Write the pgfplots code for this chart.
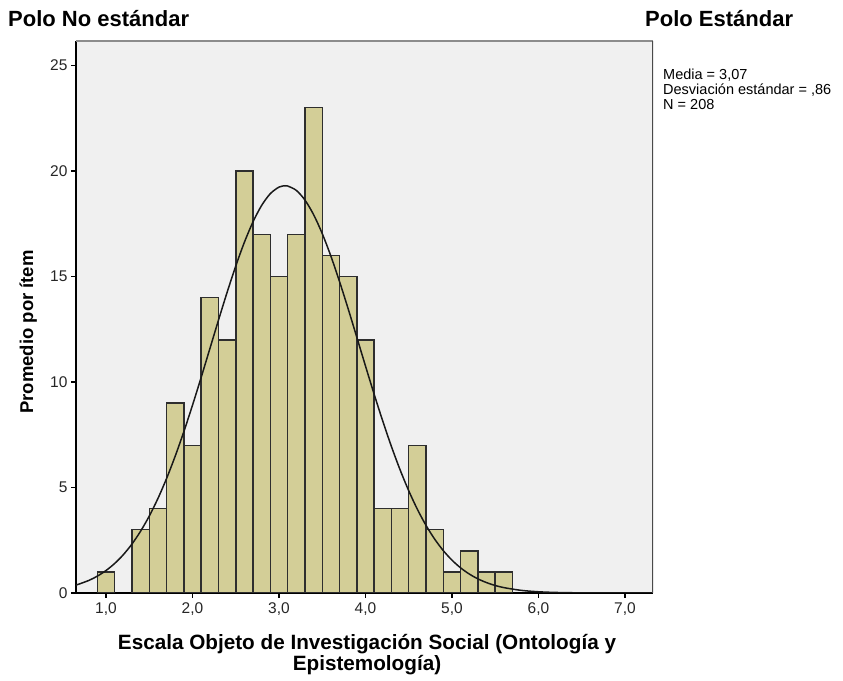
\documentclass[border=0pt]{standalone}
\usepackage{fontspec}
\setmainfont{Liberation Sans}
\usepackage{pgfplots}
\pgfplotsset{compat=1.18}
\definecolor{barFill}{HTML}{D3CE97}
\definecolor{barEdge}{HTML}{2E2E2E}
\definecolor{plotBg}{HTML}{F0F0F0}
\definecolor{frameTop}{HTML}{8C8C8C}
\definecolor{frameRight}{HTML}{4A4A4A}
\newcommand{\fsz}[1]{\fontsize{#1bp}{#1bp}\selectfont}

\begin{document}
\begin{tikzpicture}
\path[use as bounding box] (0,0) rectangle (843bp,681bp);
\begin{axis}[
  at={(76bp,88bp)}, anchor=south west,
  scale only axis, width=577bp, height=552bp,
  xmin=0.653, xmax=7.324, ymin=0, ymax=26.16,
  axis background/.style={fill=plotBg},
  axis x line*=bottom, axis y line*=left,
  axis line style={black, line width=1.2bp, -},
  xtick={1,2,3,4,5,6,7},
  xticklabels={{1,0},{2,0},{3,0},{4,0},{5,0},{6,0},{7,0}},
  ytick={0,5,10,15,20,25},
  tick align=outside, major tick length=5bp,
  tick style={black, line width=1.2bp},
  ticklabel style={font=\fsz{15.5}, text=black!85},
  xticklabel style={yshift=-1bp},
  /pgf/number format/assume math mode=true,
]
  % histogram, bins of width 0.2
  \addplot[ybar, bar width=0.2, fill=barFill, draw=barEdge, line width=1.5bp]
    coordinates {(1.0,1) (1.4,3) (1.6,4) (1.8,9) (2.0,7) (2.2,14) (2.4,12)
      (2.6,20) (2.8,17) (3.0,15) (3.2,17) (3.4,23) (3.6,16) (3.8,15)
      (4.0,12) (4.2,4) (4.4,4) (4.6,7) (4.8,3) (5.0,1) (5.2,2) (5.4,1)
      (5.6,1)};
  % normal curve (mean 3.07, sd .86, N 208)
  \addplot[black!90, line width=1.5bp, smooth, no markers]
    coordinates {(0.65,0.368) (0.8,0.593) (0.9,0.800) (1.0,1.065)
      (1.1,1.400) (1.2,1.814) (1.3,2.321) (1.4,2.930) (1.5,3.646)
      (1.6,4.478) (1.7,5.426) (1.8,6.487) (1.9,7.650) (2.0,8.901)
      (2.1,10.217) (2.2,11.570) (2.3,12.927) (2.4,14.248) (2.5,15.494)
      (2.6,16.623) (2.7,17.594) (2.8,18.372) (2.9,18.927) (3.0,19.236)
      (3.07,19.300) (3.1,19.288) (3.2,19.081) (3.3,18.622) (3.4,17.930)
      (3.5,17.032) (3.6,15.962) (3.7,14.758) (3.8,13.462) (3.9,12.114)
      (4.0,10.755) (4.1,9.421) (4.2,8.141) (4.3,6.940) (4.4,5.837)
      (4.5,4.844) (4.6,3.965) (4.7,3.202) (4.8,2.552) (4.9,2.006)
      (5.0,1.556) (5.1,1.190) (5.2,0.899) (5.3,0.669) (5.4,0.492)
      (5.5,0.356) (5.6,0.255) (5.8,0.125) (6.0,0.058) (6.2,0.026)
      (6.5,0.007) (7.0,0.001) (7.32,0.000)};
  \draw[frameTop, line width=1.5bp] (rel axis cs:0,1) -- (rel axis cs:1,1);
  \draw[frameRight, line width=1.2bp] (rel axis cs:1,1) -- (rel axis cs:1,0);
\end{axis}
% titles at the two poles
\node[anchor=base west, inner sep=0pt, font=\fsz{22}\bfseries] at (8bp,654bp) {Polo No estándar};
\node[anchor=base west, inner sep=0pt, font=\fsz{22}\bfseries] at (645bp,654bp) {Polo Estándar};
% statistics box
\node[anchor=base west, inner sep=0pt, font=\fsz{14.5}] at (663bp,601bp) {Media = 3,07};
\node[anchor=base west, inner sep=0pt, font=\fsz{14.5}] at (663bp,586bp) {Desviación estándar = ,86};
\node[anchor=base west, inner sep=0pt, font=\fsz{14.5}] at (663bp,571bp) {N = 208};
% axis titles
\node[anchor=base, inner sep=0pt, font=\fsz{20.7}\bfseries] at (367bp,32bp) {Escala Objeto de Investigación Social (Ontología y};
\node[anchor=base, inner sep=0pt, font=\fsz{20.7}\bfseries] at (367bp,11bp) {Epistemología)};
\node[rotate=90, anchor=base, inner sep=0pt, font=\fsz{18.5}\bfseries] at (33bp,349bp) {Promedio por ítem};
\end{tikzpicture}
\end{document}
